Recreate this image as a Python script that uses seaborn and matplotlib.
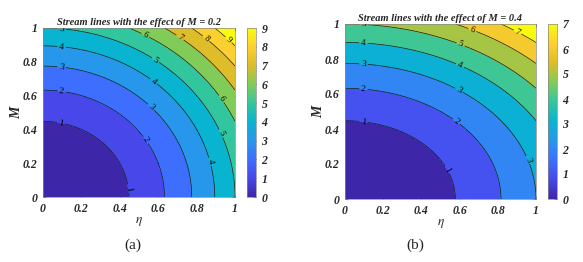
import numpy as np
import matplotlib
matplotlib.use("Agg")
import matplotlib.pyplot as plt
import seaborn as sns
from matplotlib.colors import LinearSegmentedColormap, Normalize
from matplotlib.cm import ScalarMappable

# values
panel_titles = ["Stream lines with the effect of M = 0.2", "Stream lines with the effect of M = 0.4"]
panel_tags = ["(a)", "(b)"]
eta_coef = [5.0, 3.0]
m_coef = [5.0, 5.0]
level_max = [10, 8]      # contour levels 0..level_max
cbar_max = [9, 7]        # colourbar range
axis_ticks = [0, 0.2, 0.4, 0.6, 0.8, 1]
axis_tick_labels = ["0", "0.2", "0.4", "0.6", "0.8", "1"]

# MATLAB parula(10)
parula_pts = [
    (0.2422, 0.1504, 0.6603), (0.2803, 0.2782, 0.9221), (0.2440, 0.4358, 0.9988),
    (0.1540, 0.5902, 0.9218), (0.0297, 0.7082, 0.8163), (0.1938, 0.7758, 0.6251),
    (0.5044, 0.7993, 0.3480), (0.8634, 0.7406, 0.1596), (0.9892, 0.8136, 0.1885),
    (0.9763, 0.9831, 0.0538),
]
parula = LinearSegmentedColormap.from_list("parula", parula_pts, N=256)

sns.set_style("ticks")
plt.rcParams["font.family"] = ["Liberation Serif", "DejaVu Serif"]
plt.rcParams["mathtext.fontset"] = "stix"

fig = plt.figure(figsize=(5.83, 2.62), dpi=100)
W, H = 583, 262
ax_boxes = [(43, 28, 235, 197), (345, 24, 536, 199)]
cb_boxes = [(247, 28, 256, 197), (548, 24, 557, 199)]
tag_pos = [(133, 245), (415, 245)]
bi = dict(fontweight="bold", fontstyle="italic")


def label_spots(cs, px_w, px_h, start=18, spacing=100):
    # MATLAB-like: labels spaced along each line by a fixed distance in pixels
    spots = []
    for segs in cs.allsegs:
        for seg in segs:
            if len(seg) < 2:
                continue
            if seg[0, 1] < seg[-1, 1]:
                seg = seg[::-1]
            d = np.hypot(np.diff(seg[:, 0]) * px_w, np.diff(seg[:, 1]) * px_h)
            s = np.concatenate([[0], np.cumsum(d)])
            pos = start
            while pos < s[-1] - 8:
                k = np.searchsorted(s, pos)
                spots.append((seg[k, 0], seg[k, 1]))
                pos += spacing
    return spots


eta = np.linspace(0, 1, 301)
m = np.linspace(0, 1, 301)
E, M = np.meshgrid(eta, m)

for i in range(2):
    x0, y0, x1, y1 = ax_boxes[i]
    ax = fig.add_axes([x0 / W, 1 - y1 / H, (x1 - x0) / W, (y1 - y0) / H])
    psi = eta_coef[i] * E ** 2 + m_coef[i] * M ** 2
    levels = np.arange(0, level_max[i] + 1)
    norm = Normalize(0, cbar_max[i])
    band_colors = [parula(norm(v)) for v in levels[:-1]]
    ax.contourf(E, M, psi, levels=levels, colors=band_colors)
    cs = ax.contour(E, M, psi, levels=levels[1:-1], colors="#1a1a1a", linewidths=0.5)
    ax.clabel(cs, fmt="%d", fontsize=6.5, inline=True, inline_spacing=2, colors="k",
              manual=label_spots(cs, x1 - x0, y1 - y0))

    ax.set_xlim(0, 1)
    ax.set_ylim(0, 1)
    ax.set_xticks(axis_ticks)
    ax.set_yticks(axis_ticks)
    ax.set_xticklabels(axis_tick_labels, fontsize=8.5, **bi)
    ax.set_yticklabels(axis_tick_labels, fontsize=8.5, **bi)
    ax.tick_params(direction="in", length=2.5, width=0.5, top=True, right=True, pad=4,
                   colors="#333333", labelcolor="#262626")
    for s in ax.spines.values():
        s.set_linewidth(0.5)
        s.set_color("#888888")
    ax.set_xlabel(r"$\eta$", fontsize=9.5, labelpad=0, color="#262626")
    ax.set_ylabel("M", fontsize=10, labelpad=0, color="#262626", **bi)
    ax.set_title(panel_titles[i], fontsize=7.5, pad=2, **bi)

    cx0, cy0, cx1, cy1 = cb_boxes[i]
    cax = fig.add_axes([cx0 / W, 1 - cy1 / H, (cx1 - cx0) / W, (cy1 - cy0) / H])
    cb = fig.colorbar(ScalarMappable(norm=norm, cmap=parula), cax=cax)
    cb.set_ticks(np.arange(0, cbar_max[i] + 1))
    cb.ax.tick_params(direction="in", length=2, width=0.5, labelsize=8.5, pad=4,
                      colors="#333333", labelcolor="#262626")
    for lab in cb.ax.get_yticklabels():
        lab.set_fontweight("bold")
        lab.set_fontstyle("italic")
    cb.outline.set_linewidth(0.5)
    cb.outline.set_edgecolor("#888888")

    tx, ty = tag_pos[i]
    fig.text(tx / W, 1 - ty / H, panel_tags[i], fontsize=11, ha="center", va="center")

fig.savefig("out.png", dpi=100)
